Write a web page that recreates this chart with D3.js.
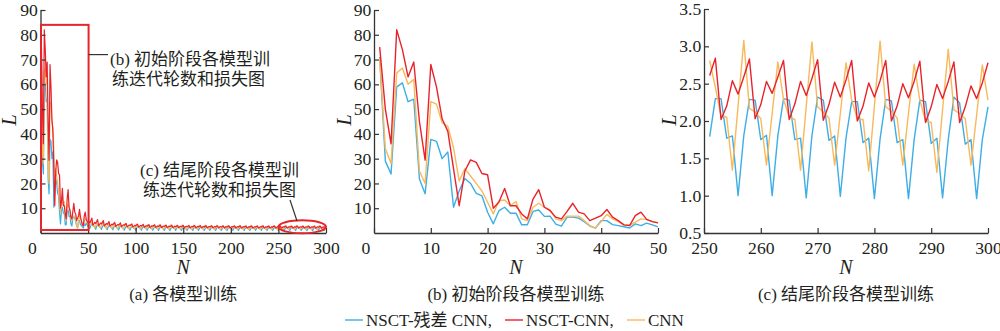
<!DOCTYPE html>
<html>
<head>
<meta charset="utf-8">
<script src="https://cdn.jsdelivr.net/npm/d3@7"></script>
<style>
  html, body { margin: 0; padding: 0; background: #fff; }
  svg { display: block; }
  text { font-family: "Liberation Serif", "Noto Sans CJK SC", serif; fill: #231f20; }
</style>
</head>
<body>
<svg id="chart" width="1000" height="331"></svg>
<script>
// ---- Loss per training epoch, three models ----
// Epochs 1-50 (early stage)
const resCnnEarly = [71, 29, 23.8, 59, 60.6, 53, 54, 21.8, 15.8, 37.8,
  37, 30, 32.7, 10.4, 17, 22, 20, 16, 15, 8.4,
  3.7, 9, 10.4, 8, 8, 3.3, 3.3, 8.7, 9.3, 6.7,
  6.8, 3.6, 2.8, 6.4, 6.4, 6, 4.6, 2.8, 2, 5,
  5, 3.4, 3, 2.5, 2, 3.7, 3, 4, 3.3, 2.5];
const nsctCnnEarly = [75, 50, 36, 82, 74, 63, 69, 45, 29.4, 68,
  59, 46, 41, 26, 11, 25, 29.5, 28.5, 24, 23.5,
  10, 12.5, 18, 11, 11, 7.7, 5.7, 13.7, 17.5, 10.4,
  9, 6.4, 5.7, 8.7, 12, 8.4, 7.7, 5, 6, 7,
  9.5, 6.4, 5, 3.3, 3, 7, 8.4, 5.5, 4.6, 4.1];
const cnnEarly = [70.6, 34, 28, 64.6, 66.6, 60, 62, 25, 20, 53,
  52, 44.5, 43, 34.5, 21, 26, 23, 20, 17, 12.4,
  7.7, 13, 13.3, 11, 12.7, 5.7, 5, 10.4, 12, 10.4,
  9.3, 5.7, 5, 6.8, 6.8, 6.8, 5, 3, 2, 4.6,
  7.5, 5.7, 4.6, 3.3, 3, 4.4, 5.7, 5.4, 4.6, 4.1];

// Epochs 51-250 (middle stage)
const resCnnMiddle = [3.1, 1.9, 3.1, 4.0,
  3.4, 2.6, 2.7, 1.5, 2.7, 3.4,   3.2, 2.4, 2.5, 1.4, 2.5, 3.2,
  3.0, 2.3, 2.35, 1.3, 2.35, 3.0, 2.9, 2.2, 2.25, 1.25, 2.25, 2.85,
  2.8, 2.1, 2.15, 1.2, 2.15, 2.75, 2.7, 2.05, 2.1, 1.15, 2.1, 2.65,
  2.62, 2.0, 2.05, 1.12, 2.05, 2.6, 2.56, 1.96, 2.0, 1.1, 2.0, 2.54,
  2.52, 1.93, 1.97, 1.08, 1.97, 2.5, 2.48, 1.9, 1.94, 1.07, 1.94, 2.46,
  2.45, 1.88, 1.92, 1.06, 1.92, 2.43, 2.43, 1.86, 1.9, 1.05, 1.9, 2.41,
  2.41, 1.85, 1.89, 1.05, 1.89, 2.4, 2.4, 1.84, 1.88, 1.04, 1.88, 2.38,
  2.38, 1.83, 1.87, 1.04, 1.87, 2.37, 2.37, 1.82, 1.86, 1.03, 1.86, 2.36,
  2.36, 1.81, 1.85, 1.03, 1.85, 2.35, 2.35, 1.8, 1.84, 1.02, 1.84, 2.34,
  2.35, 1.8, 1.84, 1.02, 1.84, 2.33, 2.34, 1.79, 1.83, 1.02, 1.83, 2.33,
  2.34, 1.79, 1.83, 1.01, 1.83, 2.32, 2.33, 1.78, 1.82, 1.01, 1.82, 2.32,
  2.33, 1.78, 1.82, 1.01, 1.82, 2.31, 2.32, 1.78, 1.82, 1.0, 1.82, 2.31,
  2.32, 1.77, 1.81, 1.0, 1.81, 2.31, 2.31, 1.77, 1.81, 0.99, 1.81, 2.3,
  2.31, 1.76, 1.8, 1.0, 1.8, 2.3, 2.3, 1.76, 1.8, 0.99, 1.8, 2.29,
  2.31, 1.77, 1.81, 0.99, 1.81, 2.3, 2.3, 1.76, 1.8, 0.98, 1.8, 2.29,
  2.31, 1.76, 1.8, 0.99, 1.8, 2.3, 2.3, 1.76, 1.8, 0.98, 1.79, 2.29,
  2.3, 1.76, 1.8, 0.99];
const nsctCnnMiddle = [4.6, 4.2, 5.0, 6.0,
  3.2, 3.6, 4.3, 3.9, 4.6, 5.4,   3.0, 3.4, 4.0, 3.7, 4.3, 5.0,
  2.9, 3.2, 3.8, 3.5, 4.0, 4.6,   2.8, 3.1, 3.6, 3.3, 3.8, 4.3,
  2.7, 3.0, 3.4, 3.2, 3.6, 4.1,   2.6, 2.9, 3.3, 3.1, 3.5, 3.9,
  2.5, 2.8, 3.2, 3.0, 3.3, 3.7,   2.45, 2.7, 3.1, 2.9, 3.2, 3.6,
  2.4, 2.65, 3.0, 2.8, 3.1, 3.5,  2.35, 2.6, 2.95, 2.75, 3.05, 3.4,
  2.3, 2.55, 2.9, 2.7, 3.0, 3.3,  2.28, 2.5, 2.85, 2.65, 2.95, 3.25,
  2.25, 2.47, 2.8, 2.62, 2.9, 3.2, 2.22, 2.45, 2.77, 2.6, 2.85, 3.15,
  2.2, 2.42, 2.74, 2.57, 2.82, 3.1, 2.18, 2.4, 2.72, 2.55, 2.8, 3.07,
  2.16, 2.38, 2.7, 2.52, 2.77, 3.04, 2.15, 2.36, 2.68, 2.5, 2.75, 3.01,
  2.13, 2.34, 2.66, 2.48, 2.73, 2.98, 2.12, 2.33, 2.64, 2.47, 2.71, 2.96,
  2.11, 2.31, 2.62, 2.45, 2.69, 2.94, 2.1, 2.3, 2.61, 2.44, 2.68, 2.92,
  2.09, 2.29, 2.6, 2.43, 2.67, 2.91, 2.08, 2.28, 2.59, 2.42, 2.66, 2.9,
  2.07, 2.27, 2.58, 2.41, 2.65, 2.89, 2.07, 2.26, 2.57, 2.4, 2.64, 2.88,
  2.06, 2.26, 2.56, 2.39, 2.63, 2.87, 2.05, 2.25, 2.56, 2.39, 2.62, 2.86,
  2.05, 2.25, 2.55, 2.38, 2.62, 2.86, 2.04, 2.24, 2.55, 2.38, 2.61, 2.85,
  2.04, 2.24, 2.54, 2.37, 2.61, 2.85, 2.03, 2.23, 2.54, 2.37, 2.6, 2.84,
  2.03, 2.23, 2.54, 2.36];
const cnnMiddle = [2.6, 3.6, 4.6, 3.6,
  3.0, 2.9, 2.0, 3.0, 4.0, 3.2,   2.9, 2.8, 1.9, 3.0, 4.3, 3.0,
  2.8, 2.7, 1.85, 2.8, 3.7, 3.0,  2.7, 2.6, 1.75, 2.8, 4.0, 2.8,
  2.6, 2.5, 1.7, 2.6, 3.5, 2.8,   2.55, 2.45, 1.62, 2.65, 3.75, 2.62,
  2.5, 2.4, 1.65, 2.5, 3.3, 2.7,  2.45, 2.38, 1.55, 2.55, 3.6, 2.52,
  2.42, 2.33, 1.6, 2.4, 3.2, 2.6, 2.38, 2.3, 1.5, 2.47, 3.5, 2.45,
  2.36, 2.25, 1.56, 2.33, 3.1, 2.52, 2.3, 2.25, 1.47, 2.4, 3.4, 2.4,
  2.3, 2.2, 1.52, 2.27, 3.02, 2.46, 2.25, 2.2, 1.44, 2.36, 3.3, 2.34,
  2.26, 2.16, 1.49, 2.22, 2.96, 2.42, 2.2, 2.16, 1.42, 2.32, 3.25, 2.3,
  2.22, 2.12, 1.47, 2.19, 2.92, 2.38, 2.17, 2.13, 1.4, 2.28, 3.2, 2.26,
  2.2, 2.1, 1.46, 2.17, 2.89, 2.35, 2.14, 2.1, 1.38, 2.26, 3.16, 2.24,
  2.18, 2.08, 1.45, 2.15, 2.86, 2.33, 2.12, 2.08, 1.37, 2.24, 3.13, 2.22,
  2.16, 2.06, 1.44, 2.13, 2.84, 2.32, 2.1, 2.07, 1.36, 2.23, 3.11, 2.2,
  2.15, 2.05, 1.43, 2.12, 2.82, 2.31, 2.09, 2.06, 1.35, 2.22, 3.1, 2.19,
  2.14, 2.04, 1.42, 2.11, 2.81, 2.3, 2.08, 2.05, 1.35, 2.21, 3.09, 2.18,
  2.13, 2.04, 1.42, 2.11, 2.8, 2.3, 2.08, 2.05, 1.34, 2.2, 3.09, 2.18,
  2.12, 2.03, 1.41, 2.1, 2.8, 2.29, 2.07, 2.04, 1.34, 2.2, 3.08, 2.17,
  2.12, 2.03, 1.41, 2.1];

// Epochs 251-300 (final stage)
const resCnnLate = [1.79, 2.30, 2.30, 1.77, 1.80, 1.0, 1.8, 2.29, 2.28, 1.75,
  1.81, 1.0, 1.8, 2.3, 2.28, 1.75, 1.77, 0.97, 1.8, 2.32,
  2.28, 1.74, 1.8, 0.99, 1.77, 2.26, 2.26, 1.71, 1.77, 0.96,
  1.76, 2.29, 2.27, 1.71, 1.75, 0.96, 1.75, 2.28, 2.26, 1.7,
  1.77, 0.97, 1.75, 2.32, 2.24, 1.69, 1.75, 0.96, 1.75, 2.19];
const nsctCnnLate = [2.61, 2.84, 2.02, 2.2, 2.54, 2.36, 2.59, 2.83, 2.03, 2.22,
  2.53, 2.37, 2.59, 2.81, 2.02, 2.23, 2.53, 2.34, 2.57, 2.82,
  2.01, 2.22, 2.52, 2.32, 2.55, 2.81, 2.0, 2.2, 2.51, 2.32,
  2.54, 2.81, 2.0, 2.2, 2.5, 2.31, 2.53, 2.8, 1.98, 2.19,
  2.49, 2.3, 2.53, 2.79, 1.98, 2.19, 2.47, 2.3, 2.51, 2.78];
const cnnLate = [2.81, 2.45, 2.07, 2.05, 1.34, 2.2, 3.08, 2.17, 2.12, 2.03,
  1.41, 2.1, 2.79, 2.29, 2.05, 2.02, 1.34, 2.2, 3.06, 2.19,
  2.12, 2.04, 1.41, 2.1, 2.78, 2.28, 2.02, 2.02, 1.33, 2.2,
  3.07, 2.19, 2.13, 2.04, 1.41, 2.1, 2.76, 2.28, 2.0, 1.98,
  1.31, 2.15, 2.96, 2.15, 2.1, 2.03, 1.41, 2.08, 2.75, 2.28];

const seriesNames = ["NSCT-残差 CNN,", "NSCT-CNN,", "CNN"];
const seriesColors = ["#3daee6", "#e8222b", "#f8b95b"];

const xTicksFull = [0, 50, 100, 150, 200, 250, 300];
const xTicksEarly = [0, 10, 20, 30, 40, 50];
const xTicksLate = [250, 260, 270, 280, 290, 300];
const yTicksWide = [10, 20, 30, 40, 50, 60, 70, 80, 90];
const yTicksNarrow = [0.5, 1.0, 1.5, 2.0, 2.5, 3.0, 3.5];

const captions = ["(a) 各模型训练", "(b) 初始阶段各模型训练", "(c) 结尾阶段各模型训练"];
const noteEarly = ["(b) 初始阶段各模型训", "练迭代轮数和损失图"];
const noteLate = ["(c) 结尾阶段各模型训", "练迭代轮数和损失图"];

// ---- assemble full series ----
const epochs = d3.range(1, 301);
const lossSeries = [
  resCnnEarly.concat(resCnnMiddle, resCnnLate),
  nsctCnnEarly.concat(nsctCnnMiddle, nsctCnnLate),
  cnnEarly.concat(cnnMiddle, cnnLate)
];

const svg = d3.select("#chart");
const axisColor = "#333";

const panels = [
  { xDomain: [0, 300], xRange: [40.5, 326], yDomain: [0, 90], yRange: [233, 10],
    xTicks: xTicksFull, yTicks: yTicksWide, yFmt: d3.format("d"), caption: captions[0], lx: 10 },
  { xDomain: [0, 50], xRange: [374, 658], yDomain: [0, 90], yRange: [233, 10],
    xTicks: xTicksEarly, yTicks: yTicksWide, yFmt: d3.format("d"), caption: captions[1], lx: 345 },
  { xDomain: [250, 300], xRange: [704, 988], yDomain: [0.5, 3.5], yRange: [233, 9],
    xTicks: xTicksLate, yTicks: yTicksNarrow, yFmt: d3.format(".1f"), caption: captions[2], lx: 670 }
];

panels.forEach((p, pi) => {
  const x = d3.scaleLinear().domain(p.xDomain).range(p.xRange);
  const y = d3.scaleLinear().domain(p.yDomain).range(p.yRange);
  p.x = x; p.y = y;
  const g = svg.append("g");

  // series lines (epochs after the domain start up to its end)
  const line = d3.line().x(d => x(d[0])).y(d => y(d[1]));
  [0, 2, 1].forEach(si => {
    const pts = epochs.map((n, i) => [n, lossSeries[si][i]])
      .filter(d => d[0] > p.xDomain[0] && d[0] <= p.xDomain[1]);
    g.append("path")
      .datum(pts)
      .attr("d", line)
      .attr("fill", "none")
      .attr("stroke", seriesColors[si])
      .attr("stroke-width", pi === 0 ? 1.2 : 1.4)
      .attr("stroke-linejoin", "round");
  });

  // axes with inward ticks
  const xAxis = d3.axisBottom(x).tickValues(p.xTicks).tickSizeInner(-5).tickSizeOuter(0).tickPadding(9);
  const yAxis = d3.axisLeft(y).tickValues(p.yTicks).tickFormat(p.yFmt).tickSizeInner(-5).tickSizeOuter(0).tickPadding(3);
  const gx = g.append("g").attr("transform", `translate(0,${p.yRange[0]})`).call(xAxis);
  const gy = g.append("g").attr("transform", `translate(${p.xRange[0]},0)`).call(yAxis);
  [gx, gy].forEach(a => {
    a.select(".domain").attr("stroke", axisColor).attr("stroke-width", 1.3);
    a.selectAll(".tick line").attr("stroke", axisColor).attr("stroke-width", 1.2);
    a.selectAll(".tick text")
      .attr("fill", "#231f20")
      .attr("transform", "scale(1.07,1)")
      .style("font-family", "'Liberation Serif', serif")
      .style("font-size", "16.5px");
  });
  gy.selectAll(".tick text").attr("dy", "0.34em").attr("x", -2.5);
  gx.selectAll(".tick text").filter(d => d === 0).attr("x", -8);

  // axis titles
  const cx = (p.xRange[0] + p.xRange[1]) / 2;
  g.append("text").attr("x", cx).attr("y", 274).attr("text-anchor", "middle")
    .style("font-style", "italic").style("font-size", "20px").text("N");
  g.append("text").attr("transform", `translate(${p.lx + 6},120) rotate(-90)`)
    .attr("text-anchor", "middle").style("font-style", "italic").style("font-size", "20px").text("L");

  // caption
  g.append("text").attr("x", cx).attr("y", 300).attr("text-anchor", "middle")
    .style("font-size", "17px").text(p.caption);
});

// ---- annotations on the overview panel ----
const pa = panels[0];
const ann = svg.append("g");
ann.append("rect")
  .attr("x", pa.x(0) + 0.5).attr("y", pa.y(84))
  .attr("width", pa.x(50) - pa.x(0)).attr("height", pa.y(1.2) - pa.y(84))
  .attr("fill", "none").attr("stroke", "#e5262d").attr("stroke-width", 2);
ann.append("line")
  .attr("x1", pa.x(50) + 0.5).attr("x2", pa.x(71)).attr("y1", pa.y(72)).attr("y2", pa.y(72))
  .attr("stroke", "#333").attr("stroke-width", 1.2);
noteEarly.forEach((t, i) => {
  ann.append("text").attr("x", i === 0 ? 110 : 112).attr("y", 65 + i * 20)
    .style("font-size", "17px").text(t);
});
ann.append("ellipse")
  .attr("cx", pa.x(275)).attr("cy", pa.y(2.5))
  .attr("rx", pa.x(300) - pa.x(275)).attr("ry", 6.5)
  .attr("fill", "none").attr("stroke", "#e5262d").attr("stroke-width", 2);
ann.append("line")
  .attr("x1", 290).attr("y1", 200).attr("x2", 297).attr("y2", 221)
  .attr("stroke", "#333").attr("stroke-width", 1.2);
noteLate.forEach((t, i) => {
  ann.append("text").attr("x", i === 0 ? 140 : 143).attr("y", 176 + i * 20)
    .style("font-size", "17px").text(t);
});

// ---- legend ----
const legendX = [345, 505, 627];
const legend = svg.append("g");
seriesNames.forEach((name, i) => {
  legend.append("line")
    .attr("x1", legendX[i]).attr("x2", legendX[i] + 18)
    .attr("y1", 320).attr("y2", 320)
    .attr("stroke", seriesColors[i]).attr("stroke-width", 1.4);
  legend.append("text").attr("x", legendX[i] + 21).attr("y", 326)
    .style("font-size", "17px").text(name);
});
</script>
</body>
</html>
